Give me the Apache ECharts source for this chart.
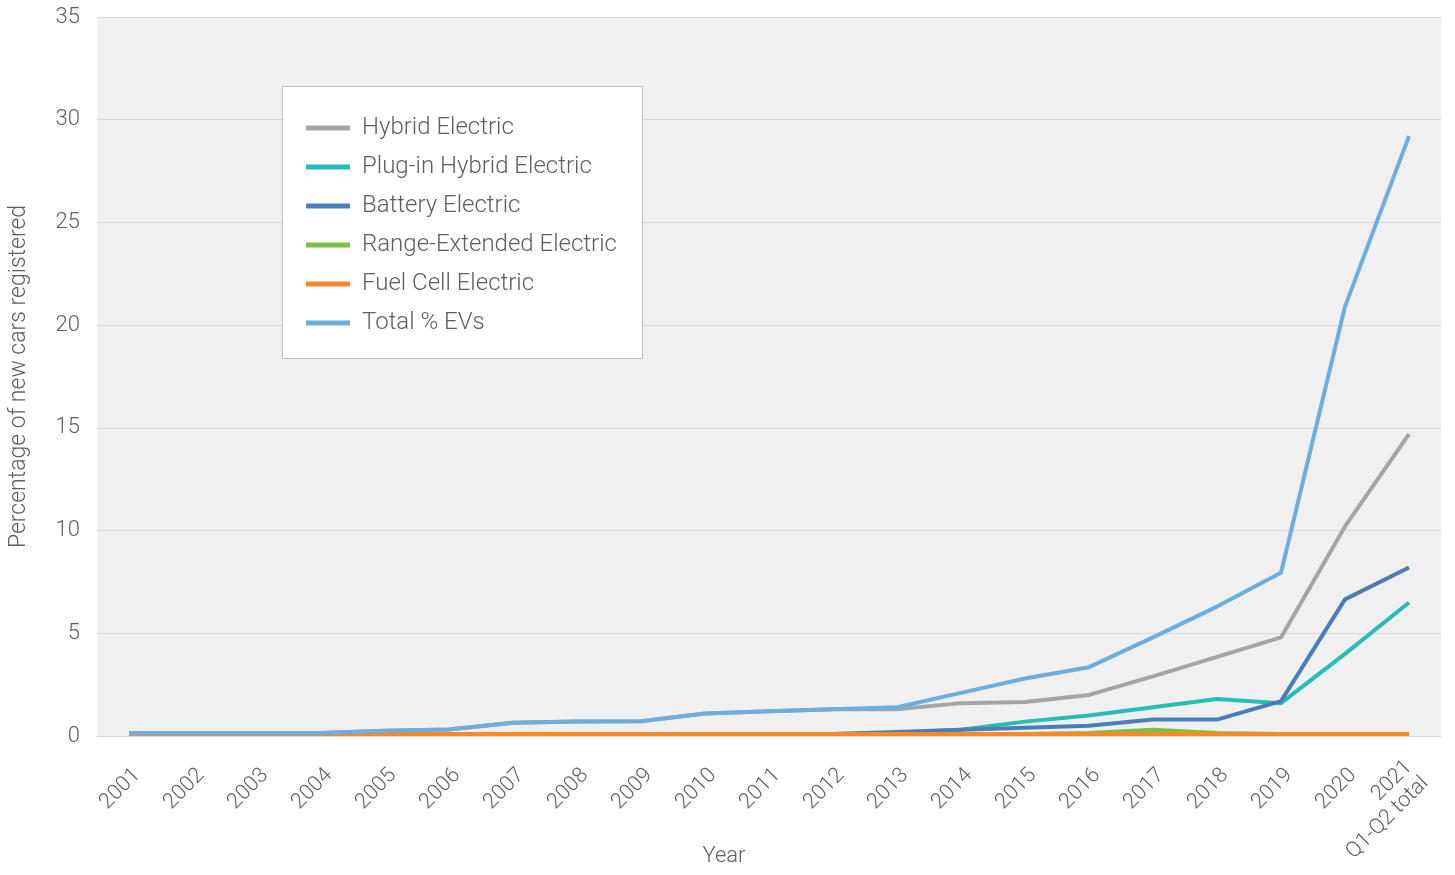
<!DOCTYPE html>
<html>
<head>
<meta charset="utf-8">
<script src="https://cdn.jsdelivr.net/npm/echarts@6/dist/echarts.min.js"></script>
<style>
html,body{margin:0;padding:0;background:#fff;}
#chart{width:1455px;height:875px;}
</style>
</head>
<body>
<div id="chart"></div>
<script>
var years = ['2001','2002','2003','2004','2005','2006','2007','2008','2009','2010','2011','2012','2013','2014','2015','2016','2017','2018','2019','2020','2021\nQ1-Q2 total'];
var hybridElectric = [0.15,0.15,0.15,0.15,0.25,0.32,0.65,0.7,0.72,1.1,1.2,1.3,1.3,1.6,1.65,2.0,2.9,3.85,4.8,10.2,14.7];
var plugInHybrid = [0.1,0.1,0.1,0.1,0.1,0.1,0.1,0.1,0.1,0.1,0.1,0.1,0.15,0.3,0.7,1.0,1.4,1.8,1.6,4.0,6.5];
var batteryElectric = [0.1,0.1,0.1,0.1,0.1,0.1,0.1,0.1,0.1,0.1,0.1,0.1,0.2,0.3,0.4,0.5,0.8,0.8,1.7,6.65,8.2];
var rangeExtended = [0.1,0.1,0.1,0.1,0.1,0.1,0.1,0.1,0.1,0.1,0.1,0.1,0.1,0.1,0.1,0.15,0.3,0.15,0.1,0.1,0.1];
var fuelCell = [0.1,0.1,0.1,0.1,0.1,0.1,0.1,0.1,0.1,0.1,0.1,0.1,0.1,0.1,0.1,0.1,0.1,0.1,0.1,0.1,0.1];
var totalEVs = [0.15,0.15,0.15,0.15,0.25,0.32,0.65,0.7,0.72,1.1,1.2,1.3,1.4,2.1,2.8,3.35,4.8,6.3,7.95,20.9,29.2];
var yTicks = [0,5,10,15,20,25,30,35];

var FONT = 'Roboto, "Liberation Sans", sans-serif';
var TXT = '#5e5e5e';
var chart = echarts.init(document.getElementById('chart'));
function mk(name, data, color) {
  return {name: name, type: 'line', data: data, symbol: 'none', smooth: false,
    lineStyle: {width: 4, color: color}, itemStyle: {color: color}};
}
chart.setOption({
  animation: false,
  backgroundColor: '#fff',
  textStyle: {fontFamily: FONT},
  grid: {left: 97, right: 14, top: 17, bottom: 139, show: true, backgroundColor: '#f0f0f0', borderWidth: 0,
    containLabel: false, outerBoundsMode: 'none'},
  graphic: [{type: 'rect', z: 3, shape: {x: 282.5, y: 86.5, width: 360, height: 272},
    style: {fill: '#fff', stroke: '#bfbfbf', lineWidth: 1}}],
  legend: {
    orient: 'vertical', left: 301, top: 111, z: 5,
    itemWidth: 44, itemHeight: 5, itemGap: 15, icon: 'rect',
    textStyle: {fontFamily: FONT, fontSize: 24, fontWeight: 300, color: TXT, lineHeight: 24, padding: [0,0,0,7]},
    data: ['Hybrid Electric','Plug-in Hybrid Electric','Battery Electric','Range-Extended Electric','Fuel Cell Electric','Total % EVs']
  },
  xAxis: {
    type: 'category', data: years, boundaryGap: true,
    name: 'Year', nameLocation: 'middle', nameGap: 109, nameMoveOverlap: false,
    nameTextStyle: {fontFamily: FONT, fontSize: 22, fontWeight: 300, color: TXT, padding: [0, 90, 0, 0]},
    axisLine: {show: true, lineStyle: {color: '#d9d9d9', width: 1}},
    axisTick: {show: false},
    axisLabel: {rotate: 45, interval: 0, margin: 28, fontFamily: FONT, fontSize: 21.5, fontWeight: 300, color: TXT, lineHeight: 23,
      formatter: function (v) { return '\n' + v; }},
    splitLine: {show: false}
  },
  yAxis: {
    type: 'value', min: 0, max: 35, interval: 5,
    name: 'Percentage of new cars registered', nameLocation: 'middle', nameGap: 66, nameMoveOverlap: false,
    nameTextStyle: {fontFamily: FONT, fontSize: 23, fontWeight: 300, color: TXT},
    axisLine: {show: false}, axisTick: {show: false},
    axisLabel: {margin: 17, fontFamily: FONT, fontSize: 22, fontWeight: 300, color: TXT,
      formatter: function (v) { return yTicks.indexOf(v) >= 0 ? String(v) : ''; }},
    splitLine: {lineStyle: {color: '#d9d9d9', width: 1}}
  },
  series: [
    mk('Hybrid Electric', hybridElectric, '#a5a5a5'),
    mk('Plug-in Hybrid Electric', plugInHybrid, '#26bdb6'),
    mk('Battery Electric', batteryElectric, '#4a7ebb'),
    mk('Range-Extended Electric', rangeExtended, '#7ac143'),
    mk('Fuel Cell Electric', fuelCell, '#f58a28'),
    mk('Total % EVs', totalEVs, '#6caee0')
  ]
});
</script>
</body>
</html>
